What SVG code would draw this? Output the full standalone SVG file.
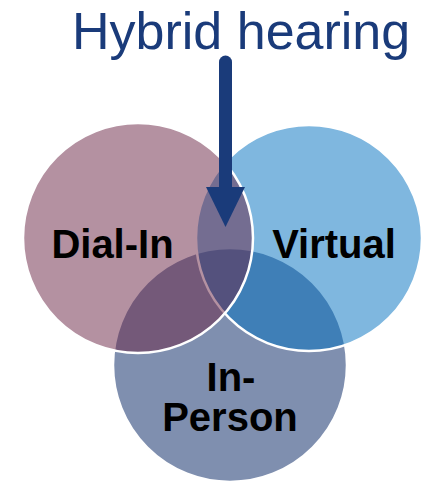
<svg xmlns="http://www.w3.org/2000/svg" width="423" height="482" viewBox="0 0 423 482">
<style>
.c{stroke:#fff;stroke-width:2.5}
.lbl{font-family:"Liberation Sans",Arial,sans-serif;font-weight:bold;font-size:40px;fill:#000;text-anchor:middle}
.title{font-family:"Liberation Sans",Arial,sans-serif;font-size:52px;fill:#1A3B7A}
</style>
<rect width="423" height="482" fill="#fff"/>
<g id="in-person"><circle class="c" cx="230" cy="365" r="117" fill="rgba(0,32,96,0.5)"/></g>
<g id="virtual"><circle class="c" cx="309" cy="238" r="113" fill="rgba(0,112,192,0.5)"/></g>
<g id="dial-in"><circle class="c" cx="138" cy="238" r="115" fill="rgba(106,35,67,0.5)"/></g>
<g id="labels">
<text class="lbl" x="112.5" y="258">Dial-In</text>
<text class="lbl" x="334" y="258">Virtual</text>
<text class="lbl" x="231" y="391">In-</text>
<text class="lbl" x="230" y="431">Person</text>
</g>
<g id="hybrid-hearing"><text class="title" x="72" y="49">Hybrid hearing</text></g>
<g id="connectors">
<line x1="225.5" y1="62" x2="225.5" y2="190" stroke="#1A3B7A" stroke-width="13" stroke-linecap="round"/>
<polygon points="206,187 245,187 225.5,227" fill="#1A3B7A"/>
</g>
</svg>
